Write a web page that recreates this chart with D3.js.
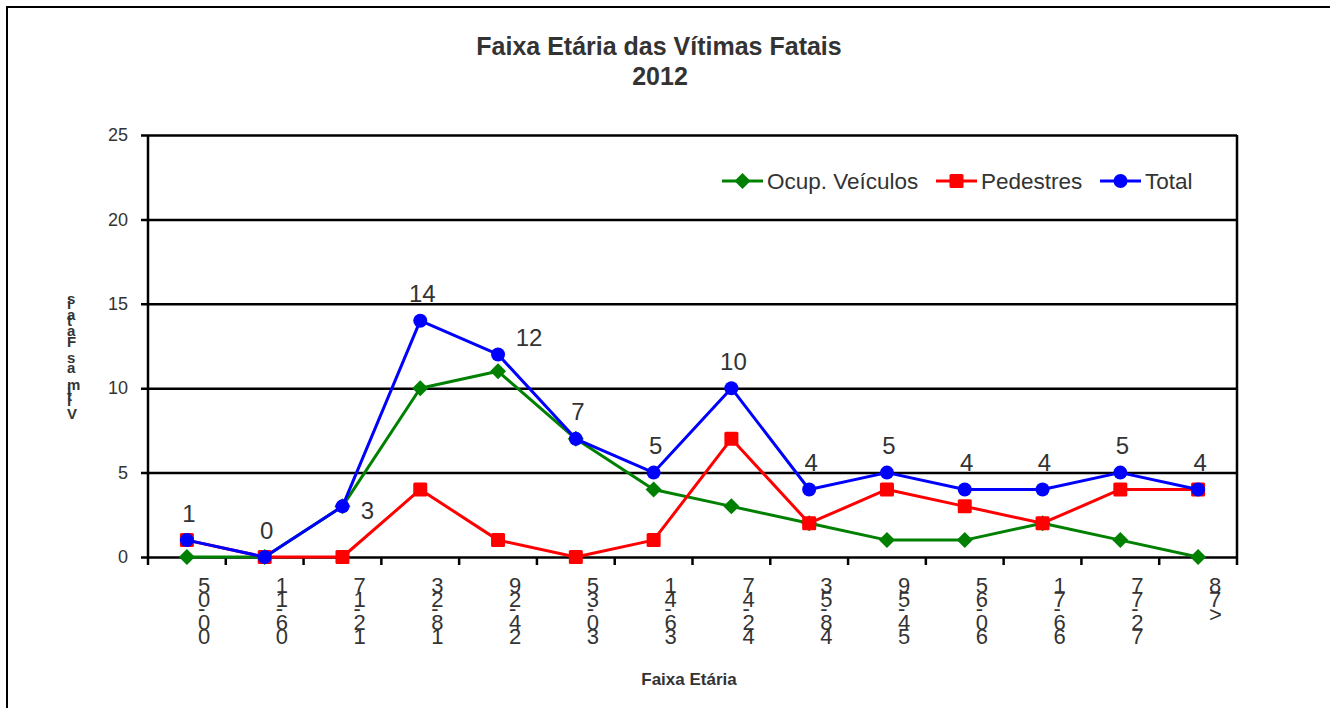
<!DOCTYPE html>
<html>
<head>
<meta charset="utf-8">
<script src="https://cdn.jsdelivr.net/npm/d3@7"></script>
<style>
    body { margin: 0; background: #fff; }
    text { font-family: "Liberation Sans", Arial, sans-serif; fill: #333; }
</style>
</head>
<body>
<svg id="chart" width="1330" height="708"></svg>
<script>
'use strict';

var categories = ['00-05', '06-11', '12-17', '18-23', '24-29', '30-35', '36-41',
    '42-47', '48-53', '54-59', '60-65', '66-71', '72-77', '>78'];
var ocupVeiculos = [0, 0, 3, 10, 11, 7, 4, 3, 2, 1, 1, 2, 1, 0];
var pedestres = [1, 0, 0, 4, 1, 0, 1, 7, 2, 4, 3, 2, 4, 4];
var total = [1, 0, 3, 14, 12, 7, 5, 10, 4, 5, 4, 4, 5, 4];
var totalLabelPos = ['t', 't', 'r', 't', 'tr', 't', 't', 't', 't', 't', 't', 't', 't', 't'];
var yTicks = [0, 5, 10, 15, 20, 25];

var series = [
    { name: 'Ocup. Veículos', values: ocupVeiculos, color: '#008000', marker: 'diamond' },
    { name: 'Pedestres', values: pedestres, color: '#ff0000', marker: 'square' },
    { name: 'Total', values: total, color: '#0000ff', marker: 'circle' }
];

var LEFT = 148, RIGHT = 1237, TOP = 135, BOTTOM = 557;
var AXIS_STROKE = 2.5;

var svg = d3.select('#chart');

// outer chart frame (runs off the right/bottom of the picture)
svg.append('rect')
    .attr('x', 7).attr('y', 7)
    .attr('width', 1400).attr('height', 800)
    .style('fill', 'none').style('stroke', '#000').style('stroke-width', 2);

var x = d3.scaleBand().domain(categories).range([LEFT, RIGHT]).padding(0);
var y = d3.scaleLinear().domain([0, 25]).range([BOTTOM, TOP]);
var cx = function(i) { return x(categories[i]) + x.bandwidth() / 2; };

// title
svg.append('text')
    .attr('x', 659).attr('y', 55)
    .attr('text-anchor', 'middle')
    .style('font-size', '25px').style('font-weight', 'bold')
    .text('Faixa Etária das Vítimas Fatais');
svg.append('text')
    .attr('x', 660).attr('y', 85)
    .attr('text-anchor', 'middle')
    .style('font-size', '25px').style('font-weight', 'bold')
    .text('2012');

// gridlines + y axis
var yAxis = svg.append('g')
    .attr('transform', 'translate(' + LEFT + ',0)')
    .call(d3.axisLeft(y).tickValues(yTicks).tickSizeInner(-(RIGHT - LEFT)).tickSizeOuter(0).tickPadding(20));
yAxis.select('.domain').remove();
yAxis.selectAll('.tick line')
    .attr('x1', -7)
    .style('stroke', '#000').style('stroke-width', AXIS_STROKE);
yAxis.selectAll('.tick text')
    .style('font-size', '18px').style('font-family', '"Liberation Sans", Arial, sans-serif')
    .style('fill', '#333');

// plot frame: left, right
svg.append('line').attr('x1', LEFT).attr('x2', LEFT).attr('y1', TOP).attr('y2', BOTTOM)
    .style('stroke', '#000').style('stroke-width', AXIS_STROKE);
svg.append('line').attr('x1', RIGHT).attr('x2', RIGHT).attr('y1', TOP).attr('y2', BOTTOM)
    .style('stroke', '#000').style('stroke-width', AXIS_STROKE);

// x ticks on the band edges
var edges = categories.map(function(c) { return x(c); }).concat([x.range()[1]]);
svg.append('g').selectAll('line')
    .data(edges)
    .enter().append('line')
    .attr('x1', function(d) { return d; }).attr('x2', function(d) { return d; })
    .attr('y1', BOTTOM).attr('y2', BOTTOM + 8)
    .style('stroke', '#000').style('stroke-width', AXIS_STROKE);

/*
 * Stacked vertical text: glyphs upright, first char at the bottom,
 * each step is the char advance (like the rotated labels in the original)
 */
function stackText(parent, str, xPos, yTop, size, weight, k) {
    var g = parent.append('g');
    var chars = str.split('');
    var nodes = chars.map(function(c) {
        return g.append('text')
            .attr('x', xPos)
            .style('font-size', size + 'px')
            .style('font-weight', weight)
            .text(c);
    });
    var adv = nodes.map(function(n, i) {
        var w = n.node().getComputedTextLength();
        if (chars[i] === ' ' || !w) w = 0.278 * size;
        return w * k;
    });
    var yy = yTop;
    for (var i = chars.length - 1; i >= 0; i--) {
        if (i < chars.length - 1) yy += adv[i];
        nodes[i].attr('y', yy);
    }
    return g;
}

var labels = svg.append('g');
categories.forEach(function(c, i) {
    stackText(labels, c, cx(i) + 11, 593, 22, 'normal', 1.15);
});

// axis titles
stackText(svg, 'Vítimas Fatais', 67, 304, 15, 'bold', 1.24);
svg.append('text')
    .attr('x', 689).attr('y', 685)
    .attr('text-anchor', 'middle')
    .style('font-size', '17px').style('font-weight', 'bold')
    .text('Faixa Etária');

// markers
function drawMarker(sel, type, color) {
    if (type === 'circle') {
        sel.append('circle').attr('r', 7).style('fill', color);
    } else if (type === 'square') {
        sel.append('rect').attr('x', -7).attr('y', -7).attr('width', 14).attr('height', 14)
            .attr('rx', 1.5).style('fill', color);
    } else {
        sel.append('path').attr('d', 'M0,-8L8,0L0,8L-8,0Z').style('fill', color);
    }
}

var line = d3.line()
    .x(function(d, i) { return cx(i); })
    .y(function(d) { return y(d); });

series.forEach(function(s) {
    var g = svg.append('g');
    g.append('path')
        .datum(s.values)
        .attr('d', line)
        .style('fill', 'none')
        .style('stroke', s.color)
        .style('stroke-width', 3)
        .style('stroke-linejoin', 'round');
    g.selectAll('g.pt')
        .data(s.values)
        .enter().append('g')
        .attr('class', 'pt')
        .attr('transform', function(d, i) { return 'translate(' + cx(i) + ',' + y(d) + ')'; })
        .each(function() { drawMarker(d3.select(this), s.marker, s.color); });
});

// data labels on Total
svg.append('g').selectAll('text')
    .data(total)
    .enter().append('text')
    .attr('x', function(d, i) {
        var p = totalLabelPos[i];
        return cx(i) + (p === 'r' ? 25 : p === 'tr' ? 31 : 2);
    })
    .attr('y', function(d, i) {
        var p = totalLabelPos[i];
        return y(d) + (p === 'r' ? 4 : p === 'tr' ? -17 : -27);
    })
    .attr('dy', '0.36em')
    .attr('text-anchor', 'middle')
    .style('font-size', '24px')
    .text(function(d) { return d; });

// legend
var legendX = [722, 936, 1100];
var legend = svg.append('g');
series.forEach(function(s, i) {
    var lg = legend.append('g').attr('transform', 'translate(' + legendX[i] + ',181)');
    lg.append('line').attr('x1', 0).attr('x2', 41).attr('y1', 0).attr('y2', 0)
        .style('stroke', s.color).style('stroke-width', 3);
    var m = lg.append('g').attr('transform', 'translate(20.5,0)');
    drawMarker(m, s.marker, s.color);
    lg.append('text')
        .attr('x', 45).attr('y', 0).attr('dy', '0.36em')
        .style('font-size', '22.5px')
        .text(s.name);
});
</script>
</body>
</html>
